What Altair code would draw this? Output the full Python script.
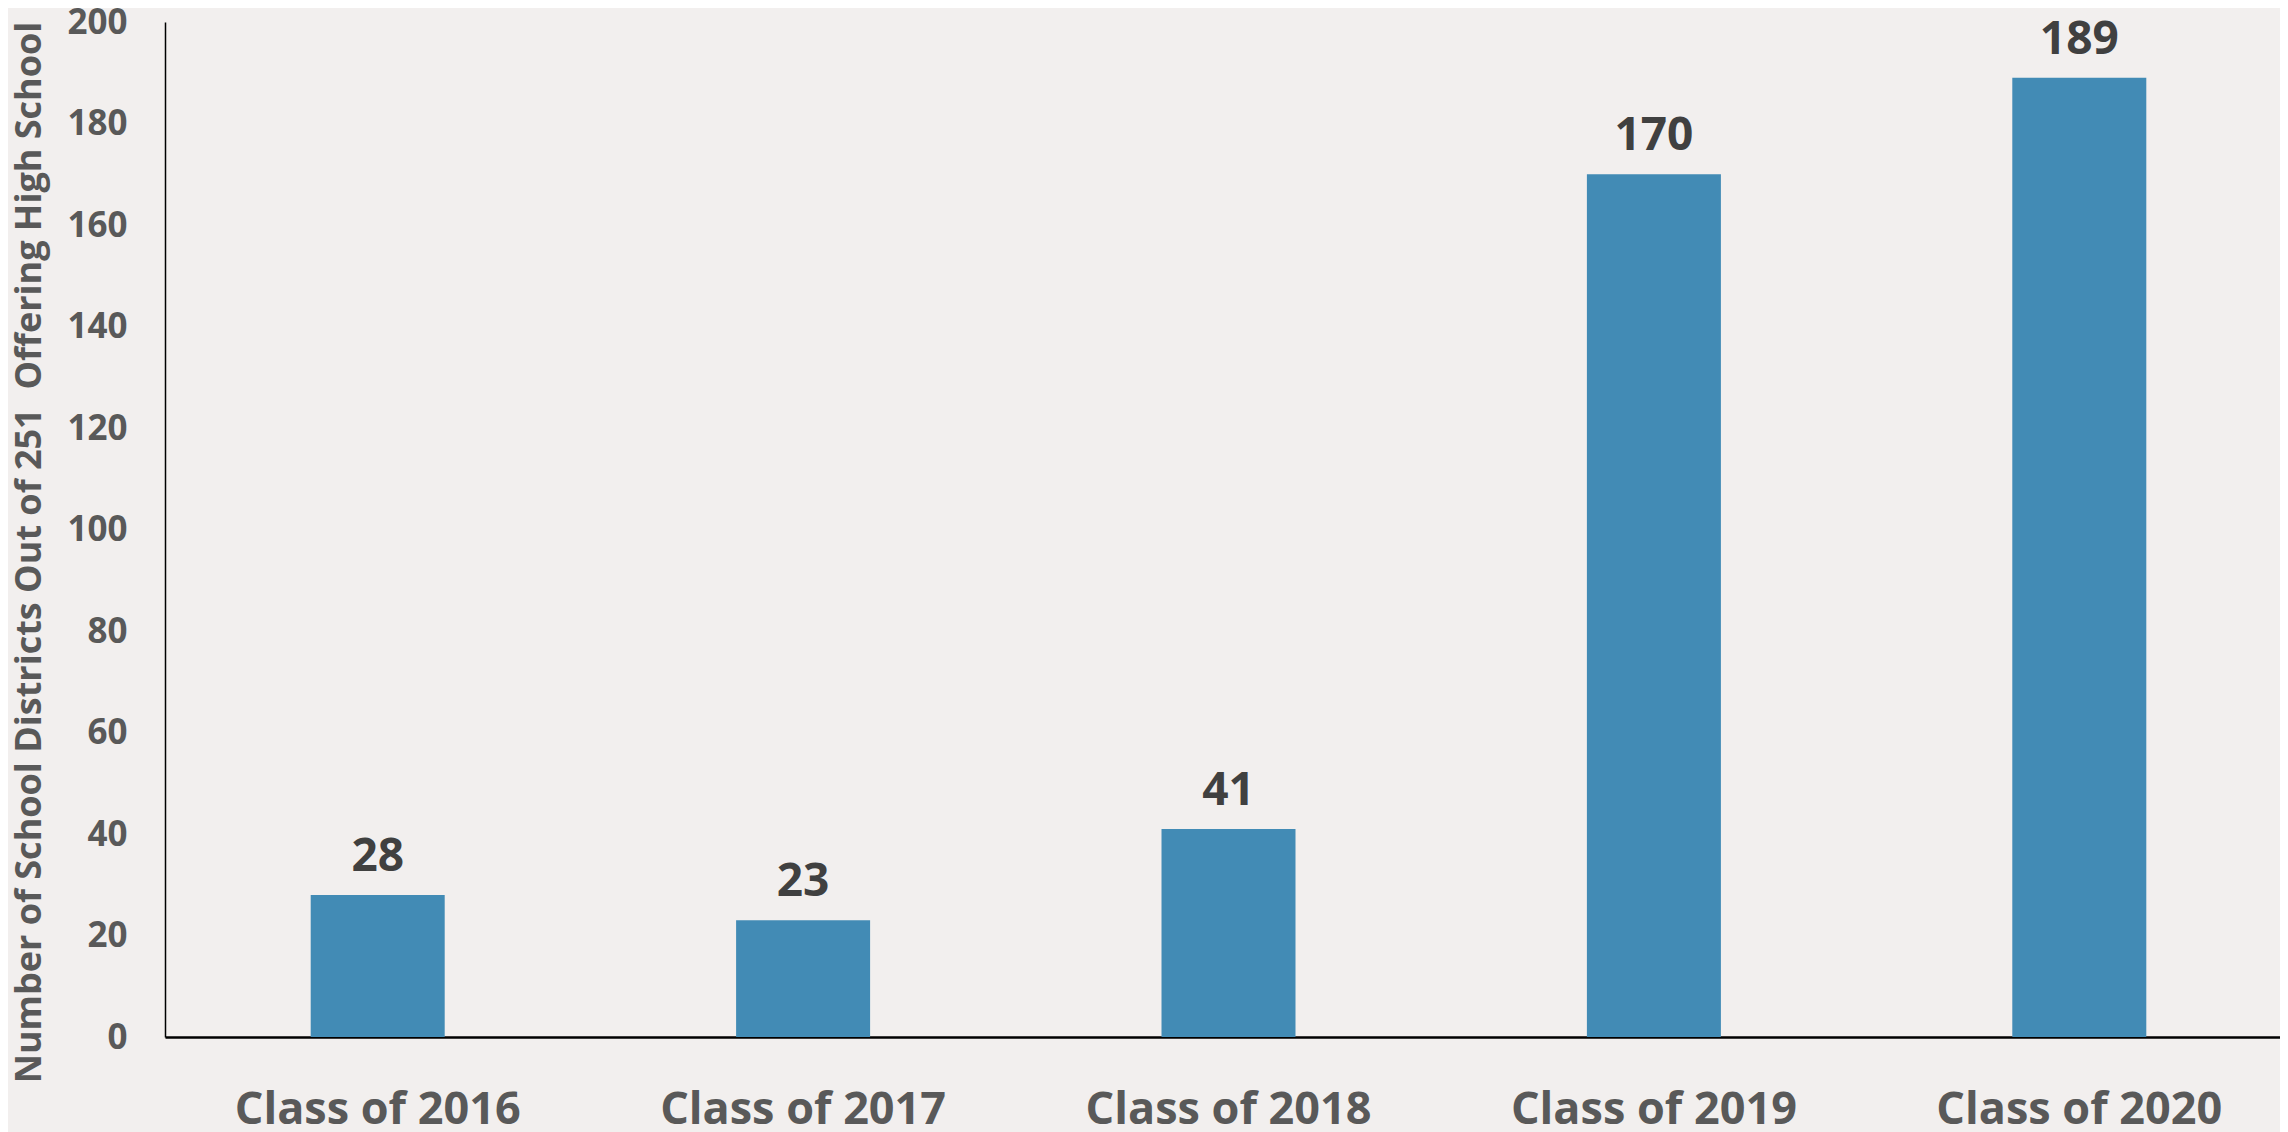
import altair as alt
import pandas as pd

categories = ["Class of 2016", "Class of 2017", "Class of 2018", "Class of 2019", "Class of 2020"]
values = [28, 23, 41, 170, 189]
y_ticks = [0, 20, 40, 60, 80, 100, 120, 140, 160, 180, 200]

df = pd.DataFrame({"cls": categories, "n": values})

FONT = "Open Sans"
BG = "#F2EFEE"

x = alt.X("cls:N", sort=categories, title=None,
          scale=alt.Scale(paddingInner=0.685, paddingOuter=0.3425, rangeMax=2127),
          axis=alt.Axis(labelAngle=0, labelFont=FONT, labelFontSize=45, labelFontWeight="bold",
                        labelColor="#595959", labelPadding=50, labelLimit=1000, ticks=False,
                        domainColor="#000000", domainWidth=2.5))
y = alt.Y("n:Q", scale=alt.Scale(domain=[0, 200], nice=False),
          title="Number of School Districts Out of 251\u00a0 Offering High School",
          axis=alt.Axis(values=y_ticks, grid=False, ticks=False, labelFont=FONT, labelFontSize=35,
                        labelFontWeight="bold", labelColor="#595959", labelPadding=38,
                        domainColor="#000000", domainWidth=1.5,
                        titleFont=FONT, titleFontSize=36, titleFontWeight="bold", titleColor="#595959",
                        titlePadding=18, titleY=549 - 22 + 3, titleLimit=2000))

bars = alt.Chart(df).mark_bar(color="#428BB5").encode(x=x, y=y)
labels = alt.Chart(df).mark_text(font=FONT, fontSize=46, fontWeight="bold", color="#404040",
                                 baseline="alphabetic", dy=-24).encode(
    x=alt.X("cls:N", sort=categories), y="n:Q", text="n:Q")

chart = (bars + labels).properties(
    width=2115, height=1015,
    autosize=alt.AutoSizeParams(type="none"),
    padding={"left": 157, "top": 14, "right": 0, "bottom": 100},
    background=BG,
).configure_view(stroke=None)

chart.save("out.html", embed_options={"renderer": "svg", "actions": False})
